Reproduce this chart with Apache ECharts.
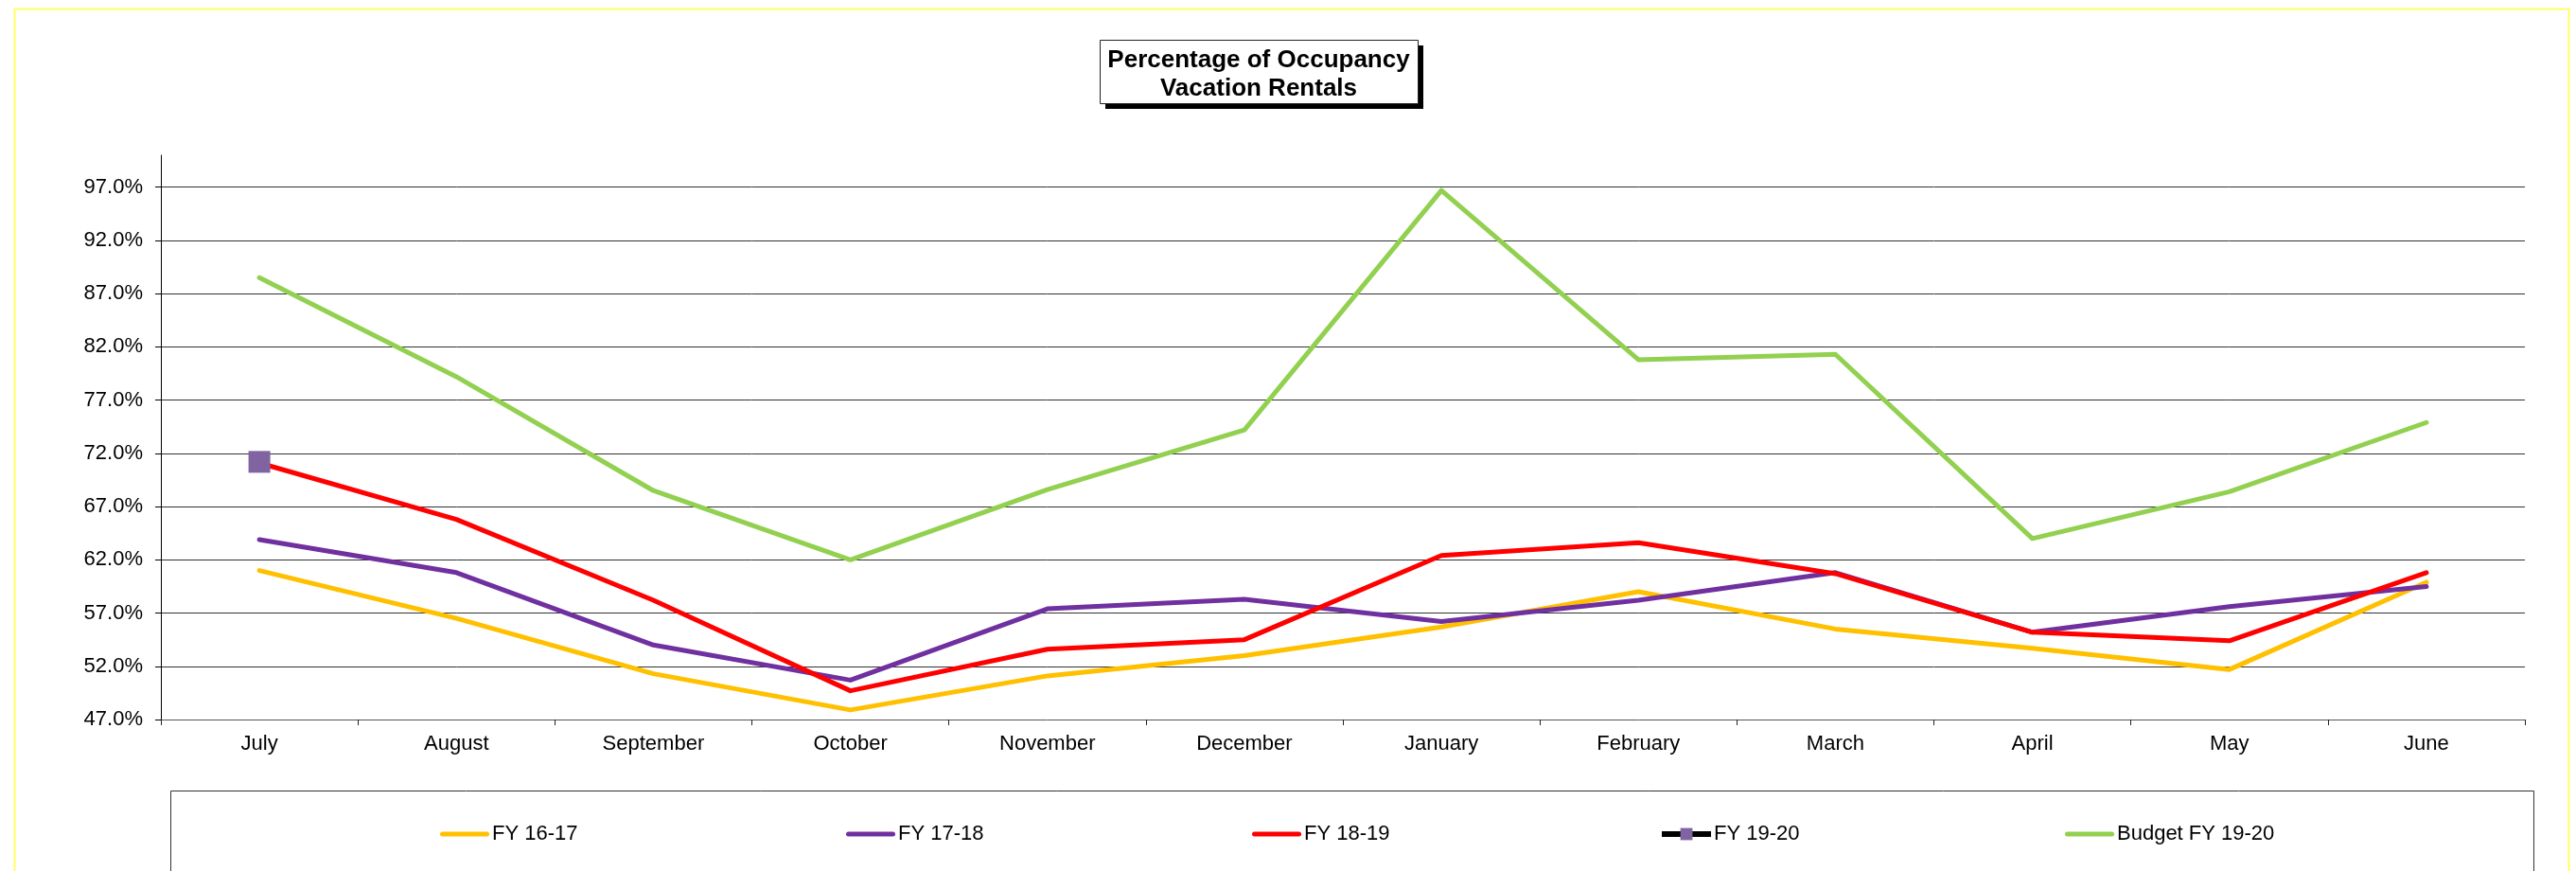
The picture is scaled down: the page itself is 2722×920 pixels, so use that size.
<!DOCTYPE html>
<html><head><meta charset="utf-8">
<script src="https://cdn.jsdelivr.net/npm/echarts@6/dist/echarts.min.js"></script>
<style>html,body{margin:0;padding:0;background:#fff}#c{width:2722px;height:920px}</style>
</head><body><div id="c"></div>
<script>
const categories = ['July','August','September','October','November','December','January','February','March','April','May','June'];
const seriesNames = ['FY 16-17','FY 17-18','FY 18-19','FY 19-20','Budget FY 19-20'];
const fy1617 = [61.0,56.5,51.3,47.9,51.1,53.0,55.7,59.0,55.5,53.7,51.7,59.9];
const fy1718 = [63.9,60.8,54.0,50.7,57.4,58.3,56.2,58.2,60.8,55.2,57.6,59.5];
const fy1819 = [71.1,65.8,58.2,49.7,53.6,54.5,62.4,63.6,60.7,55.2,54.4,60.8];
const fy1920 = [71.2,null,null,null,null,null,null,null,null,null,null,null];
const budget1920 = [88.5,79.2,68.5,62.0,68.6,74.2,96.7,80.8,81.3,64.0,68.4,74.9];
const yMin = 47, yMax = 100, yStep = 5;
const titleLines = ['Percentage of Occupancy','Vacation Rentals'];
const seriesColors = ['#FFC000','#7030A0','#FF0000','#000000','#92D050'];

const FONT = '"Liberation Sans", Arial, sans-serif';
const chart = echarts.init(document.getElementById('c'), null, {renderer:'canvas'});

function lineSeries(name, data, color){
  return {name, type:'line', data, symbol:'none', showSymbol:false,
    lineStyle:{color, width:5, cap:'round', join:'round'}, itemStyle:{color}, animation:false};
}

// legend slots (equal spacing like the original)
const legendLefts = [465, 894, 1323, 1753, 2182];
const lineIcon = 'path://M0,0 M0,24 M2.5,9.5 L49.5,9.5 A2.5,2.5 0 0 1 49.5,14.5 L2.5,14.5 A2.5,2.5 0 0 1 2.5,9.5 Z';
const legends = seriesNames.map((name, i) => {
  const special = (i === 3);
  const o = {
    data: special ? [name] : [{name, icon: lineIcon}],
    left: legendLefts[i], top: special ? 870 : 869,
    padding: 0, itemGap: 0,
    itemWidth: 52, itemHeight: special ? 16 : 24,
    textStyle:{fontFamily:FONT, fontSize:22, color:'#000', padding:[0,0,0,-2]},
    z: 10
  };
  if (special) o.lineStyle = {width:6, color:'#000'};
  return o;
});

chart.setOption({
  backgroundColor:'#fff',
  animation:false,
  graphic:[
    {type:'rect', left:13, top:7, shape:{width:2699, height:1000},
      style:{fill:'none', stroke:'#FFFF66', lineWidth:2}, silent:true, z:-1},
    {type:'rect', left:1168, top:48, shape:{width:336, height:67},
      style:{fill:'#000'}, silent:true, z:0},
    {type:'rect', left:1162, top:42, shape:{width:336, height:67},
      style:{fill:'#fff', stroke:'#222', lineWidth:1}, silent:true, z:1},
    {type:'rect', left:180, top:835, shape:{width:2497, height:200},
      style:{fill:'#fff', stroke:'#333', lineWidth:1}, silent:true, z:0}
  ],
  title:{
    text: titleLines.join('\n'),
    left:1330, top:49, textAlign:'center',
    padding:0,
    textStyle:{fontFamily:FONT, fontSize:26, fontWeight:'bold', color:'#000', lineHeight:30},
    z: 10
  },
  grid:{left:170, right:54, top:164, bottom:160, containLabel:false},
  xAxis:{
    type:'category', data:categories, boundaryGap:true,
    axisLine:{lineStyle:{color:'#555', width:1}},
    axisTick:{show:true, length:6, inside:false, lineStyle:{color:'#222'}},
    axisLabel:{fontFamily:FONT, fontSize:22, color:'#000', margin:15},
    splitLine:{show:false}
  },
  yAxis:{
    type:'value', min:yMin, max:yMax, interval:yStep,
    axisLine:{show:true, lineStyle:{color:'#000', width:1}},
    axisTick:{show:true, length:6, lineStyle:{color:'#000'}},
    axisLabel:{fontFamily:FONT, fontSize:22, color:'#000', margin:19, showMaxLabel:false,
      formatter:v => v.toFixed(1) + '%'},
    splitLine:{show:true, showMinLine:false, showMaxLine:false, lineStyle:{color:'#333', width:1}}
  },
  legend: legends,
  series:[
    lineSeries(seriesNames[0], fy1617, seriesColors[0]),
    lineSeries(seriesNames[1], fy1718, seriesColors[1]),
    lineSeries(seriesNames[2], fy1819, seriesColors[2]),
    {name:seriesNames[3], type:'line', data:fy1920, symbol:'rect', symbolSize:23, showSymbol:true,
      lineStyle:{color:seriesColors[3], width:6}, itemStyle:{color:'#8064A2'}},
    lineSeries(seriesNames[4], budget1920, seriesColors[4])
  ]
});
</script></body></html>
